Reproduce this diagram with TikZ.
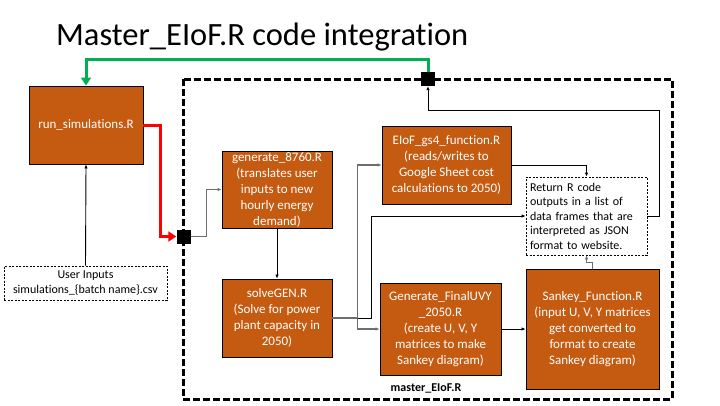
\documentclass[tikz,border=0pt]{standalone}
\usepackage{fontspec}
\setmainfont{Carlito}[Ligatures=NoCommon]
\usetikzlibrary{arrows.meta}
\definecolor{boxorange}{RGB}{197,90,17}
\definecolor{officegreen}{RGB}{0,176,80}
\definecolor{conngray}{RGB}{110,110,110}
\tikzset{
  obox/.style={draw=black, line width=0.9pt, fill=boxorange, text=white, align=center,
    inner sep=0pt, font=\fontsize{13}{16}\selectfont},
  dbox/.style={draw=black, dash pattern=on 2pt off 1.5pt, line width=0.8pt, fill=white, inner sep=0pt,
    font=\fontsize{12}{14.5}\selectfont},
  sqnode/.style={fill=black, minimum size=14pt, inner sep=0pt},
  conn/.style={draw=black, line width=0.9pt, -{Latex[length=4pt,width=3.5pt]}},
  gconn/.style={draw=conngray, line width=1.2pt, -{Latex[length=4pt,width=3.5pt]}},
  greenline/.style={draw=officegreen, line width=3pt, -{Triangle[length=8pt,width=10pt]}},
  redline/.style={draw=red, line width=3pt, -{Triangle[length=8pt,width=10pt]}},
  outerbox/.style={draw=black, line width=3pt, dash pattern=on 7pt off 3pt},
}
\begin{document}
\begin{tikzpicture}[x=1pt,y=-1pt]
\useasboundingbox (0,0) rectangle (720,405);
% title
\node[anchor=base west, inner sep=0pt, font=\fontsize{32.5}{38}\selectfont] (title) at (56,45) {Master\_EIoF.R code integration};
% outer dashed box
\draw[outerbox] (183,79) rectangle (672,399);
\node[inner sep=0pt, font=\bfseries\fontsize{12}{14}\selectfont] (master) at (426,388) {master\_EIoF.R};
% boxes
\node[obox, minimum width=114pt, minimum height=78pt] (run) at (86,125) {run\_simulations.R};
\node[dbox, minimum width=163pt, minimum height=34pt, align=center, font=\fontsize{12}{15}\selectfont] (user) at (85.5,283) {User Inputs\\simulations\_\{batch name\}.csv};
\node[obox, minimum width=110pt, minimum height=77pt] (gen) at (277,189.5) {generate\_8760.R\\(translates user\\inputs to new\\hourly energy\\demand)};
\node[obox, minimum width=110pt, minimum height=78pt] (solve) at (277,318) {solveGEN.R\\(Solve for power\\plant capacity in\\2050)};
\node[obox, minimum width=129pt, minimum height=78pt] (eiof) at (446.5,165) {EIoF\_gs4\_function.R\\(reads/writes to\\Google Sheet cost\\calculations to 2050)};
\node[dbox, minimum width=121pt, minimum height=78pt, align=left, text width=113pt] (ret) at (586.5,216) {Return R code\\outputs in a list of\\data frames that are\\interpreted as JSON\\format to website.};
\node[obox, minimum width=121pt, minimum height=92pt] (uvy) at (440.5,329) {Generate\_FinalUVY\\\_2050.R\\(create U, V, Y\\matrices to make\\Sankey diagram)};
\node[obox, minimum width=133pt, minimum height=120pt] (sank) at (592.5,329) {Sankey\_Function.R\\(input U, V, Y matrices\\get converted to\\format to create\\Sankey diagram)};
% junction squares
\node[sqnode] (sq1) at (428,79) {};
\node[sqnode] (sq2) at (183.5,236.5) {};
\coordinate (g1) at (86,59);
\coordinate (rt) at (659,110);
% connectors
\draw[greenline] (sq1.north) |- (g1) -- (run.north);
\draw[redline] (run.east) -- ++(17,0) |- (sq2.west);
\draw[gconn] (sq2.east) -- ++(16,0) |- (gen.west);
\draw[conn] (user.north) -- (run.south);
\draw[conn] (gen.south) -- (solve.north);
\draw[conn] (solve.east) -- ++(39,0) |- (ret.west);
\draw[gconn] (solve.east) -- ++(25,0) |- (eiof.west);
\draw[gconn] (solve.east) -- ++(25,0) |- (uvy.west);
\draw[conn] (eiof.east) -| (ret.north);
\draw[conn] (uvy.east) -- (sank.west);
\draw[gconn] (sank.north) -- ++(0,-6) -| (ret.south);
\draw[conn] (ret.east) -| (rt) -| (sq1.south);
\end{tikzpicture}
\end{document}
